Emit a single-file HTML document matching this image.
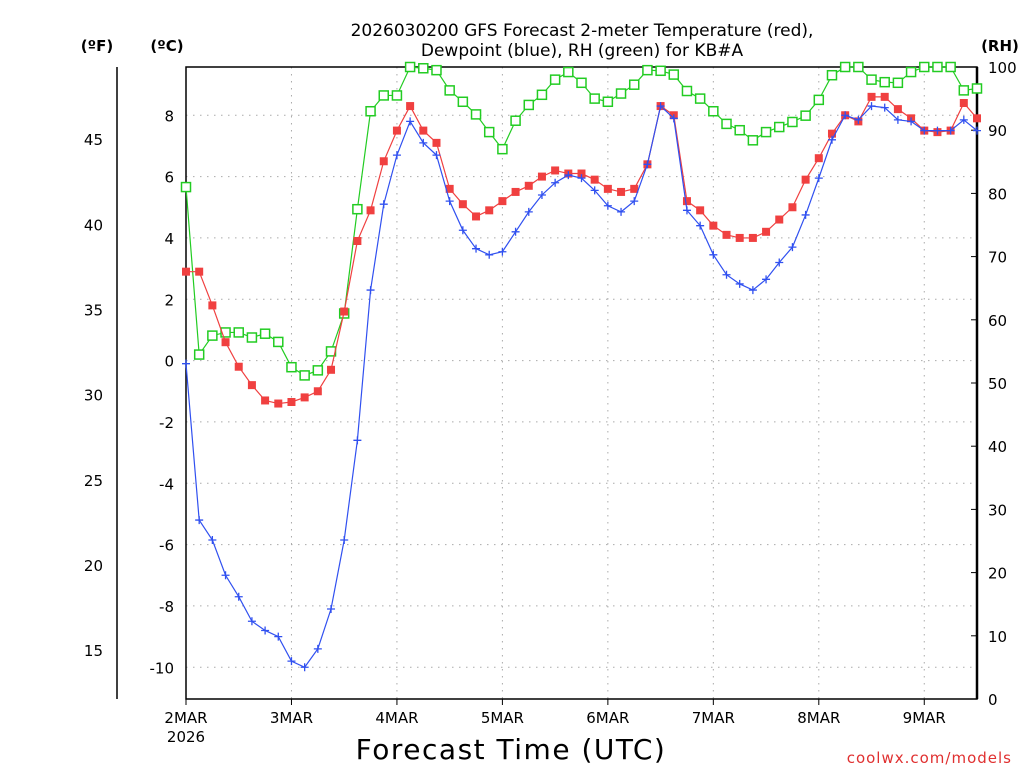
<!DOCTYPE html>
<html><head><meta charset="utf-8"><style>
body{margin:0;background:#fff;}
svg text{font-family:"DejaVu Sans","Liberation Sans",sans-serif;}
</style></head><body>
<svg id="chart" width="1024" height="768" xmlns="http://www.w3.org/2000/svg">
<g id="grid"></g>
<g id="axes"></g>
<g id="series"></g>
<text x="582" y="36" font-size="17" text-anchor="middle">2026030200 GFS Forecast 2-meter Temperature (red),</text>
<text x="582" y="56" font-size="17" text-anchor="middle">Dewpoint (blue), RH (green) for KB#A</text>
<text x="97" y="51" font-size="15" font-weight="bold" text-anchor="middle">(ºF)</text>
<text x="167" y="51" font-size="15" font-weight="bold" text-anchor="middle">(ºC)</text>
<text x="1000" y="51" font-size="15" font-weight="bold" text-anchor="middle">(RH)</text>
<text x="511" y="759" font-size="28" text-anchor="middle" letter-spacing="1.5">Forecast Time (UTC)</text>
<text x="1012" y="763" font-size="15" fill="#e03030" text-anchor="end" letter-spacing="1">coolwx.com/models</text>
</svg>
<script>
const hours=[];for(let h=0;h<=180;h+=3)hours.push(h);
const temp=[2.9,2.9,1.8,0.6,-0.2,-0.8,-1.3,-1.4,-1.35,-1.2,-1.0,-0.3,1.6,3.9,4.9,6.5,7.5,8.3,7.5,7.1,5.6,5.1,4.7,4.9,5.2,5.5,5.7,6.0,6.2,6.1,6.1,5.9,5.6,5.5,5.6,6.4,8.3,8.0,5.2,4.9,4.4,4.1,4.0,4.0,4.2,4.6,5.0,5.9,6.6,7.4,8.0,7.8,8.6,8.6,8.2,7.9,7.5,7.45,7.5,8.4,7.9];
const dewp=[-0.1,-5.2,-5.85,-7.0,-7.7,-8.5,-8.8,-9.0,-9.8,-10.0,-9.4,-8.1,-5.85,-2.6,2.3,5.1,6.7,7.8,7.1,6.7,5.2,4.25,3.65,3.45,3.55,4.2,4.85,5.4,5.8,6.05,5.95,5.55,5.05,4.85,5.2,6.4,8.3,7.9,4.9,4.4,3.45,2.8,2.5,2.3,2.65,3.2,3.7,4.75,5.95,7.2,8.0,7.85,8.3,8.25,7.85,7.8,7.5,7.5,7.5,7.85,7.5];
const rh=[81,54.5,57.5,58,58,57.2,57.8,56.5,52.5,51.2,52,55,61,77.5,93,95.5,95.5,100,99.8,99.5,96.3,94.5,92.5,89.7,87,91.5,94,95.6,98,99.2,97.5,95,94.5,95.8,97.2,99.5,99.4,98.8,96.2,95,93,91,90,88.4,89.7,90.5,91.3,92.3,94.8,98.7,100,100,98,97.6,97.5,99.2,100,100,100,96.3,96.6];
const dayLabels=["2MAR","3MAR","4MAR","5MAR","6MAR","7MAR","8MAR","9MAR"];
const cTicks=[-10,-8,-6,-4,-2,0,2,4,6,8];
const fTicks=[15,20,25,30,35,40,45];
const rhTicks=[0,10,20,30,40,50,60,70,80,90,100];

const L=186,R=977,T=67,B=699;
const xS=h=>L+h*(R-L)/180;
const yC=c=>360.6-c*30.667;
const yF=f=>yC((f-32)*5/9);
const yRH=v=>B-v*(B-T)/100;
const NS="http://www.w3.org/2000/svg";
function mk(tag,parent,attrs){const e=document.createElementNS(NS,tag);for(const k in attrs)e.setAttribute(k,attrs[k]);parent.appendChild(e);return e;}
const grid=document.getElementById('grid'),axes=document.getElementById('axes'),ser=document.getElementById('series');

cTicks.forEach(c=>{
 const l=mk('line',grid,{x1:L,x2:R,y1:yC(c),y2:yC(c),stroke:'#aaa','stroke-dasharray':'1.5,5.5'});
 
 const t=mk('text',axes,{x:174,y:yC(c)+6,'font-size':15,'text-anchor':'end'});t.textContent=c;
 
});
dayLabels.forEach((d,i)=>{
 const x=xS(i*24);
 if(i>0){const l=mk('line',grid,{x1:x,x2:x,y1:T,y2:B,stroke:'#aaa','stroke-dasharray':'1.5,5.5'});
 }
 const tk=mk('line',axes,{x1:x,x2:x,y1:B,y2:B+6,stroke:'#000'});
 
 const t=mk('text',axes,{x:x,y:723,'font-size':15,'text-anchor':'middle'});t.textContent=d;
 
});
const yr=mk('text',axes,{x:186,y:742,'font-size':15,'text-anchor':'middle'});yr.textContent='2026';

fTicks.forEach(f=>{
 const t=mk('text',axes,{x:103,y:yF(f)+6,'font-size':15,'text-anchor':'end'});t.textContent=f;
 
});
rhTicks.forEach(v=>{
 const tk=mk('line',axes,{x1:R-6,x2:R,y1:yRH(v),y2:yRH(v),stroke:'#000'});
 
 const t=mk('text',axes,{x:988,y:yRH(v)+6,'font-size':15});t.textContent=v;
 
});
const fr=mk('rect',axes,{x:L,y:T,width:R-L,height:B-T,fill:'none',stroke:'#000','stroke-width':1.5});

const ra=mk('line',axes,{x1:R,x2:R,y1:T,y2:B,stroke:'#000','stroke-width':2.5});

const fa=mk('line',axes,{x1:117,x2:117,y1:T,y2:B,stroke:'#000','stroke-width':1.5});


function series(vals,yf,color,name){
 const g=mk('g',ser,{});
 const pts=vals.map((v,i)=>xS(hours[i])+','+yf(v)).join(' ');
 const pl=mk('polyline',g,{points:pts,fill:'none',stroke:color,'stroke-width':1.2});
 
 return g;
}
const gr=series(rh,yRH,'#22cc22','rh');
rh.forEach((v,i)=>{const m=mk('rect',gr,{x:xS(hours[i])-4.5,y:yRH(v)-4.5,width:9,height:9,fill:'#fff',stroke:'#22cc22','stroke-width':1.5});
 });
const gt=series(temp,yC,'#f04040','temperature');
temp.forEach((v,i)=>{const m=mk('rect',gt,{x:xS(hours[i])-4,y:yC(v)-4,width:8,height:8,fill:'#f04040'});
 });
const gd=series(dewp,yC,'#3050f0','dewpoint');
dewp.forEach((v,i)=>{const x=xS(hours[i]),y=yC(v);const m=mk('path',gd,{d:`M${x-4},${y}H${x+4}M${x},${y-4}V${y+4}`,stroke:'#3050f0','stroke-width':1.3});
 });
</script>
</body></html>
